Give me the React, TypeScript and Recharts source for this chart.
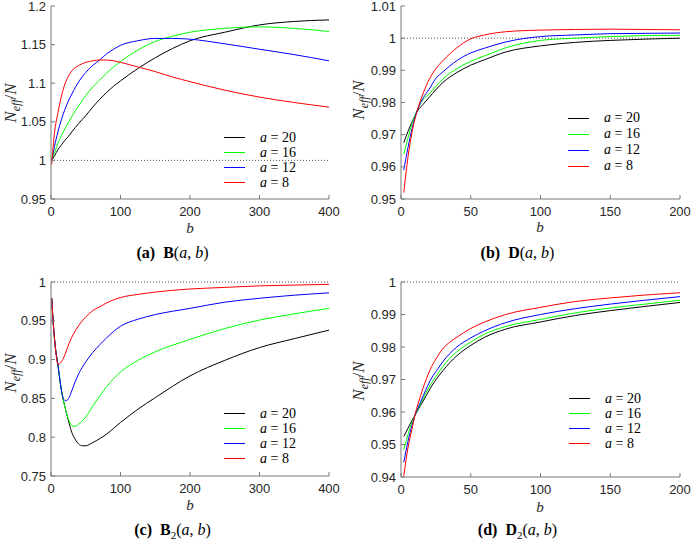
import React from 'react';
import { LineChart, Line, XAxis, YAxis, ReferenceLine, Legend } from 'recharts';

// legend / series
const aValues = ['20', '16', '12', '8'];
const seriesKeys = ['a20', 'a16', 'a12', 'a8'];
const seriesColors = ['#000000', '#00ff00', '#0000ff', '#ff0000'];

// (a) B(a,b)
const bB = [1, 5, 10, 15, 20, 25, 30, 40, 50, 60, 70, 80, 90, 100, 125, 150, 175, 200, 250, 300, 350, 400];
const B20 = [1.0, 1.006, 1.014, 1.02, 1.026, 1.031, 1.037, 1.048, 1.058, 1.069, 1.079, 1.088, 1.096, 1.103, 1.119, 1.133, 1.145, 1.155, 1.166, 1.1755, 1.18, 1.182];
const B16 = [1.0, 1.01, 1.022, 1.032, 1.041, 1.049, 1.057, 1.071, 1.084, 1.095, 1.104, 1.113, 1.121, 1.128, 1.143, 1.154, 1.161, 1.166, 1.171, 1.173, 1.171, 1.167];
const B12 = [1.0, 1.018, 1.037, 1.053, 1.066, 1.077, 1.086, 1.102, 1.114, 1.123, 1.13, 1.138, 1.144, 1.149, 1.155, 1.158, 1.158, 1.157, 1.151, 1.144, 1.137, 1.129];
const B8 = [0.995, 1.035, 1.062, 1.083, 1.099, 1.109, 1.116, 1.123, 1.127, 1.129, 1.13, 1.13, 1.129, 1.127, 1.121, 1.115, 1.108, 1.102, 1.091, 1.082, 1.075, 1.069];

// (b) D(a,b)
const bD = [2, 5, 8, 12, 16, 20, 25, 30, 40, 50, 60, 75, 100, 125, 150, 175, 200];
const D20 = [0.9675, 0.971, 0.974, 0.9775, 0.9795, 0.9815, 0.984, 0.9862, 0.9893, 0.9916, 0.9933, 0.9957, 0.9976, 0.9987, 0.9993, 0.9997, 1.0];
const D16 = [0.964, 0.969, 0.9735, 0.978, 0.981, 0.9825, 0.985, 0.9873, 0.9905, 0.9928, 0.9945, 0.997, 0.9993, 1.0, 1.0005, 1.0008, 1.0009];
const D12 = [0.959, 0.966, 0.972, 0.978, 0.9815, 0.984, 0.9875, 0.9895, 0.993, 0.9954, 0.9969, 0.9988, 1.0005, 1.001, 1.0014, 1.0015, 1.0016];
const D8 = [0.952, 0.963, 0.971, 0.978, 0.983, 0.987, 0.9905, 0.993, 0.997, 0.9998, 1.001, 1.002, 1.0025, 1.0027, 1.0028, 1.0027, 1.0026];

// (c) B2(a,b)
const bB2 = [1, 3, 6, 10, 14, 18, 22, 26, 30, 35, 40, 45, 50, 60, 70, 80, 100, 125, 150, 200, 250, 300, 350, 400];
const B2_20 = [0.979, 0.95, 0.918, 0.893, 0.866, 0.847, 0.832, 0.818, 0.806, 0.797, 0.791, 0.789, 0.789, 0.793, 0.798, 0.804, 0.819, 0.836, 0.851, 0.879, 0.899, 0.9155, 0.927, 0.938];
const B2_16 = [0.979, 0.95, 0.918, 0.893, 0.866, 0.847, 0.832, 0.821, 0.815, 0.814, 0.817, 0.821, 0.826, 0.84, 0.853, 0.865, 0.884, 0.899, 0.91, 0.926, 0.94, 0.951, 0.959, 0.966];
const B2_12 = [0.979, 0.95, 0.918, 0.893, 0.866, 0.849, 0.847, 0.851, 0.86, 0.872, 0.882, 0.89, 0.897, 0.909, 0.919, 0.928, 0.943, 0.952, 0.958, 0.966, 0.974, 0.979, 0.983, 0.986];
const B2_8 = [0.979, 0.95, 0.918, 0.894, 0.896, 0.902, 0.911, 0.921, 0.929, 0.937, 0.944, 0.95, 0.955, 0.963, 0.968, 0.973, 0.98, 0.984, 0.987, 0.991, 0.993, 0.995, 0.996, 0.997];

// (d) D2(a,b)
const bD2 = [2, 5, 8, 10, 14, 18, 22, 26, 30, 35, 40, 50, 60, 75, 100, 125, 150, 175, 200];
const D2_20 = [0.9525, 0.955, 0.9575, 0.959, 0.962, 0.965, 0.968, 0.9705, 0.9727, 0.9752, 0.9773, 0.9805, 0.983, 0.9855, 0.9877, 0.9897, 0.9912, 0.9925, 0.9937];
const D2_16 = [0.9485, 0.953, 0.957, 0.959, 0.9625, 0.966, 0.969, 0.9715, 0.974, 0.9765, 0.9785, 0.9815, 0.984, 0.9863, 0.9885, 0.9905, 0.992, 0.9932, 0.9944];
const D2_12 = [0.9445, 0.951, 0.956, 0.959, 0.963, 0.967, 0.9705, 0.973, 0.9755, 0.978, 0.98, 0.9828, 0.985, 0.9875, 0.99, 0.9918, 0.9932, 0.9944, 0.9955];
const D2_8 = [0.9404, 0.949, 0.955, 0.959, 0.965, 0.97, 0.974, 0.977, 0.9795, 0.9815, 0.983, 0.9857, 0.9877, 0.99, 0.9922, 0.994, 0.9951, 0.996, 0.9967];

// ticks
const xTicks400 = [0, 100, 200, 300, 400];
const xTicks200 = [0, 50, 100, 150, 200];
const yTicksB = [0.95, 1, 1.05, 1.1, 1.15, 1.2];
const yTicksD = [0.95, 0.96, 0.97, 0.98, 0.99, 1, 1.01];
const yTicksB2 = [0.75, 0.8, 0.85, 0.9, 0.95, 1];
const yTicksD2 = [0.94, 0.95, 0.96, 0.97, 0.98, 0.99, 1];

const rows = (bs: number[], s20: number[], s16: number[], s12: number[], s8: number[]) =>
  bs.map((b, i) => ({ b, a20: s20[i], a16: s16[i], a12: s12[i], a8: s8[i] }));

const serif = '"Liberation Serif", "DejaVu Serif", serif';
const sans = '"Liberation Sans", Arial, sans-serif';
const axisColor = '#777777';
const tickStyle = { fontFamily: sans, fontSize: 13, fill: '#262626' };
const fmt = (v: number) => String(Number(v.toFixed(3)));
const blank = () => '';

function LegendBox({ payload, rowH }: any) {
  const items = [...(payload || [])].sort((a: any, b: any) => aValues.indexOf(a.value) - aValues.indexOf(b.value));
  return (
    <div style={{ fontFamily: serif, fontSize: 14, color: '#000' }}>
      {items.map((p: any) => (
        <div key={p.value} style={{ position: 'relative', height: rowH, lineHeight: `${rowH}px`, paddingLeft: 36, whiteSpace: 'nowrap' }}>
          <span style={{ position: 'absolute', left: 0, top: Math.floor(rowH / 2), width: 21, height: 1, background: p.color }} />
          <i>a</i> = {p.value}
        </div>
      ))}
    </div>
  );
}

// rotated N_eff/N, drawn in the chart's svg
const yLabelAt = (x: number, y: number) => () => (
  <text transform={`translate(${x},${y}) rotate(-90)`} textAnchor="middle" fontFamily={serif} fontSize={17} fill="#262626">
    <tspan fontStyle="italic">N</tspan>
    <tspan fontStyle="italic" fontSize={12} dy={4}>eff</tspan>
    <tspan dy={-4}>/</tspan>
    <tspan fontStyle="italic">N</tspan>
  </text>
);

type PanelProps = {
  left: number;
  top: number;
  width: number;
  plotH: number;
  right: number;
  yWidth: number;
  data: any[];
  xDomain: [number, number];
  xTicks: number[];
  yDomain: [number, number];
  yTicks: number[];
  legendLeft: number;
  legendTop: number;
  rowH: number;
  yLabel: [number, number];
  xLabel: [number, number];
  titleY: number;
  title: React.ReactNode;
};

function Panel(p: PanelProps) {
  const xH = 24;
  const mTop = 6;
  const height = mTop + p.plotH + xH;
  return (
    <>
      <div style={{ position: 'absolute', left: p.left, top: p.top, width: p.width, height }}>
        <LineChart width={p.width} height={height} data={p.data} margin={{ top: mTop, right: p.right, bottom: 0, left: 0 }}>
          <XAxis dataKey="b" type="number" domain={p.xDomain} ticks={p.xTicks} interval={0} allowDataOverflow
            height={xH} stroke={axisColor} tickSize={-4} tickMargin={12} tick={tickStyle} />
          <XAxis xAxisId="top" orientation="top" dataKey="b" type="number" domain={p.xDomain} ticks={p.xTicks}
            interval={0} allowDataOverflow height={0} stroke={axisColor} tickSize={-4} tickFormatter={blank} />
          <YAxis type="number" domain={p.yDomain} ticks={p.yTicks} interval={0} allowDataOverflow width={p.yWidth}
            stroke={axisColor} tickSize={-4} tickMargin={9} tick={tickStyle} tickFormatter={fmt}
            label={yLabelAt(p.yLabel[0], p.yLabel[1] - p.top)} />
          <YAxis yAxisId="right" orientation="right" type="number" domain={p.yDomain} ticks={p.yTicks} interval={0}
            allowDataOverflow width={0} stroke={axisColor} tickSize={-4} tickFormatter={blank} />
          <ReferenceLine y={1} stroke="#555" strokeDasharray="1 2" />
          {seriesKeys.map((k, i) => (
            <Line key={k} type="monotone" dataKey={k} name={aValues[i]} stroke={seriesColors[i]} strokeWidth={1}
              dot={false} activeDot={false} isAnimationActive={false} />
          ))}
          <Legend layout="horizontal" verticalAlign="middle" align="center"
            wrapperStyle={{ left: p.legendLeft, top: p.legendTop, width: 'auto', height: 'auto' }}
            content={(props: any) => <LegendBox payload={props.payload} rowH={p.rowH} />} />
        </LineChart>
      </div>
      <div style={{ position: 'absolute', left: p.xLabel[0] - 10, width: 20, top: p.xLabel[1] - 9, textAlign: 'center',
        fontFamily: serif, fontSize: 15, lineHeight: '18px', fontStyle: 'italic', color: '#262626' }}>b</div>
      <div style={{ position: 'absolute', left: p.left, width: 345, top: p.titleY - 10, lineHeight: '20px',
        textAlign: 'center', fontFamily: serif, fontSize: 16, whiteSpace: 'nowrap', color: '#000' }}>
        {p.title}
      </div>
    </>
  );
}

export default function App() {
  return (
    <div style={{ position: 'absolute', left: 0, top: 0, width: 691, height: 547, background: '#fff', overflow: 'hidden' }}>
      <Panel left={0} top={0} width={345} plotH={193} right={16} yWidth={51}
        data={rows(bB, B20, B16, B12, B8)} xDomain={[0, 400]} xTicks={xTicks400} yDomain={[0.95, 1.2]} yTicks={yTicksB}
        legendLeft={224} legendTop={130} rowH={15} yLabel={[16, 103]} xLabel={[190, 228]} titleY={253}
        title={<><b>(a)</b>&nbsp; <b>B</b>(<i>a</i>, <i>b</i>)</>} />
      <Panel left={345} top={0} width={346} plotH={193} right={11} yWidth={56}
        data={rows(bD, D20, D16, D12, D8)} xDomain={[0, 200]} xTicks={xTicks200} yDomain={[0.95, 1.01]} yTicks={yTicksD}
        legendLeft={223} legendTop={110} rowH={16} yLabel={[19, 100]} xLabel={[540, 227]} titleY={253}
        title={<><b>(b)</b>&nbsp; <b>D</b>(<i>a</i>, <i>b</i>)</>} />
      <Panel left={0} top={276} width={345} plotH={194} right={16} yWidth={51}
        data={rows(bB2, B2_20, B2_16, B2_12, B2_8)} xDomain={[0, 400]} xTicks={xTicks400} yDomain={[0.75, 1]} yTicks={yTicksB2}
        legendLeft={224} legendTop={130} rowH={15} yLabel={[16, 373]} xLabel={[190, 505]} titleY={530}
        title={<><b>(c)</b>&nbsp; <b>B</b><sub style={{ fontSize: 11 }}>2</sub>(<i>a</i>, <i>b</i>)</>} />
      <Panel left={345} top={276} width={346} plotH={195} right={11} yWidth={56}
        data={rows(bD2, D2_20, D2_16, D2_12, D2_8)} xDomain={[0, 200]} xTicks={xTicks200} yDomain={[0.94, 1]} yTicks={yTicksD2}
        legendLeft={224} legendTop={115} rowH={15} yLabel={[19, 381]} xLabel={[540, 507]} titleY={530}
        title={<><b>(d)</b>&nbsp; <b>D</b><sub style={{ fontSize: 11 }}>2</sub>(<i>a</i>, <i>b</i>)</>} />
    </div>
  );
}
